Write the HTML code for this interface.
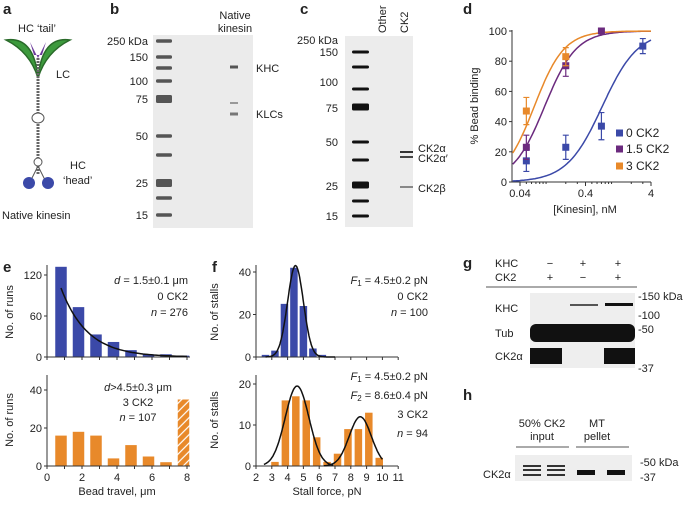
<!DOCTYPE html>
<html><head><meta charset="utf-8"><style>
body{margin:0;background:#fff}
svg{font-family:"Liberation Sans",sans-serif;font-size:11px;fill:#222}
.pl{font-weight:bold;font-size:15px}
</style></head><body>
<svg id="fig" width="685" height="504" viewBox="0 0 685 504" xmlns="http://www.w3.org/2000/svg">
<g id="panel-a">
<text class="pl" x="3" y="14">a</text>
<text x="18" y="32">HC ‘tail’</text>
<path d="M6,40 Q34,36 38,78 Q30,52 6,40Z" fill="#3d9a3d" stroke="#2a6a2a" stroke-width="1.5"/>
<path d="M70,40 Q42,36 38,78 Q46,52 70,40Z" fill="#3d9a3d" stroke="#2a6a2a" stroke-width="1.5"/>
<path d="M30,42 L38,58 L46,42 L42,55 L34,55Z" fill="#6b3a9a"/>
<text x="56" y="78">LC</text>
<line x1="38" y1="58" x2="38" y2="175" stroke="#666" stroke-width="3" stroke-dasharray="2,1"/>
<ellipse cx="38" cy="118" rx="6" ry="5" fill="#fff" stroke="#555"/>
<ellipse cx="38" cy="162" rx="4" ry="4" fill="#fff" stroke="#555"/>
<path d="M38,166 L31,180 M38,166 L45,180" stroke="#555"/>
<ellipse cx="29" cy="183" rx="6" ry="6" fill="#3b49a8"/>
<ellipse cx="48" cy="183" rx="6" ry="6" fill="#3b49a8"/>
<text x="70" y="169">HC</text><text x="63" y="184">‘head’</text>
<text x="2" y="219">Native kinesin</text>
</g>
<g id="panel-b"><text class="pl" x="110" y="14">b</text></g>
<g id="panel-c"><text class="pl" x="300" y="14">c</text></g>
<g id="panel-d"><text class="pl" x="463" y="14">d</text></g>
<g id="panel-e"><text class="pl" x="3" y="272">e</text></g>
<g id="panel-f"><text class="pl" x="212" y="272">f</text></g>
<g id="panel-g"><text class="pl" x="463" y="268">g</text></g>
<g id="panel-h"><text class="pl" x="463" y="400">h</text></g>
</svg>
<script>
// ---- data ----
const dConc=[0.05,0.2,0.7,3];
const d0=[14,23,37,90], d0e=[7,8,9,5];
const d15=[23,77,100], d15e=[8,7,0];
const d3=[47,83], d3e=[9,6];
const dTicks=[0.04,0.4,4];
const dYTicks=[0,20,40,60,80,100];
const eTopVals=[132,73,33,22,10,4,4,2];
const eBotVals=[16,18,16,4,11,5,2,35];
const eBins=[1,2,3,4,5,6,7,8];
const fTopCenters=[2.6,3.2,3.8,4.4,5.0,5.6,6.2];
const fTopVals=[1,3,25,42,24,4,1];
const fBotCenters=[3.2,3.86,4.52,5.18,5.84,6.5,7.16,7.82,8.48,9.14,9.8];
const fBotVals=[1,16,17,16,7,1,3,9,9,13,2];
const NS='http://www.w3.org/2000/svg';
function mk(p,t,a,txt){const e=document.createElementNS(NS,t);for(const k in a)e.setAttribute(k,a[k]);if(txt!==undefined)e.textContent=txt;p.appendChild(e);return e;}
function mkh(p,t,a,html){const e=mk(p,t,a);e.innerHTML=html;return e;}
const B=document.getElementById('panel-b'),C=document.getElementById('panel-c'),D=document.getElementById('panel-d'),E=document.getElementById('panel-e'),F=document.getElementById('panel-f'),G=document.getElementById('panel-g'),H=document.getElementById('panel-h');
// ---- gel b ----
mk(B,'rect',{x:153,y:35,width:100,height:193,fill:'#ebebeb'});
[41,57,68,81,99,136,155,183,198,215].forEach((y,i)=>{const h=(i==4||i==7)?8:3.5;const r=mk(B,'rect',{x:156,y:y-h/2,width:16,height:h,fill:'#555',rx:1.5});});
[[41,'250 kDa'],[57,'150'],[81,'100'],[99,'75'],[136,'50'],[183,'25'],[215,'15']].forEach(([y,t])=>{const e=mk(B,'text',{x:148,y:y+4,'text-anchor':'end'},t);});
[[67,'#555',3],[103,'#999',2],[114,'#777',3]].forEach(([y,c,h])=>mk(B,'rect',{x:230,y:y-h/2,width:8,height:h,fill:c}));
mk(B,'text',{x:235,y:19,'text-anchor':'middle'},'Native');mk(B,'text',{x:235,y:32,'text-anchor':'middle'},'kinesin');
mk(B,'text',{x:256,y:72},'KHC');mk(B,'text',{x:256,y:118},'KLCs');
// ---- gel c ----
mk(C,'rect',{x:345,y:36,width:68,height:191,fill:'#ececec'});
[52,67,89,107,142,160,185,201,216].forEach((y,i)=>{const h=(i==3||i==6)?7:3;const r=mk(C,'rect',{x:352,y:y-h/2,width:17,height:h,fill:'#111',rx:1.5});});
[[40,'250 kDa'],[52,'150'],[82,'100'],[108,'75'],[142,'50'],[186,'25'],[216,'15']].forEach(([y,t])=>mk(C,'text',{x:338,y:y+4,'text-anchor':'end'},t));
[[152,'#333',2],[157,'#444',2],[187,'#888',2]].forEach(([y,c,h])=>mk(C,'rect',{x:400,y:y-h/2,width:13,height:h,fill:c}));
mk(C,'text',{x:386,y:33,transform:'rotate(-90 386 33)'},'Other');
mk(C,'text',{x:408,y:33,transform:'rotate(-90 408 33)'},'CK2');
mk(C,'text',{x:418,y:152},'CK2α');mk(C,'text',{x:418,y:162},'CK2α′');mk(C,'text',{x:418,y:192},'CK2β');
// ---- panel d ----
const dx=v=>520+Math.log10(v/0.04)*65.5, dy=v=>182-v*1.51;
mk(D,'line',{x1:512,y1:30,x2:512,y2:182,stroke:'#333'});mk(D,'line',{x1:512,y1:182,x2:651,y2:182,stroke:'#333'});
dYTicks.forEach(v=>{mk(D,'line',{x1:509,y1:dy(v),x2:512,y2:dy(v),stroke:'#333'});mk(D,'text',{x:507,y:dy(v)+4,'text-anchor':'end'},v);});
for(let dec=0.01;dec<10;dec*=10)for(let m=1;m<10;m++){const v=dec*m;if(v<0.031||v>4.01)continue;const big=dTicks.some(t=>Math.abs(t-v)<1e-9);mk(D,'line',{x1:dx(v),y1:182,x2:dx(v),y2:182+(big?4:2),stroke:'#333'});}
dTicks.forEach(v=>mk(D,'text',{x:dx(v),y:197,'text-anchor':'middle'},v));
mk(D,'text',{x:585,y:213,'text-anchor':'middle'},'[Kinesin], nM');
mk(D,'text',{x:478,y:106,'text-anchor':'middle',transform:'rotate(-90 478 106)'},'% Bead binding');
function hill(K,n,col,name){let p='';for(let i=0;i<=100;i++){const x=0.031*Math.pow(4/0.031,i/100);let y=100*Math.pow(x,n)/(Math.pow(K,n)+Math.pow(x,n));y=Math.min(100,y);p+=(i?'L':'M')+dx(x).toFixed(1)+','+dy(y).toFixed(1);}const e=mk(D,'path',{d:p,fill:'none',stroke:col,'stroke-width':1.5});}
hill(0.72,1.6,'#3b49a8','fit-0-ck2');hill(0.095,1.8,'#6b2a7e','fit-1.5-ck2');hill(0.066,1.9,'#e8892a','fit-3-ck2');
function pts(vals,errs,col,name){vals.forEach((v,i)=>{const x=dx(dConc[i]),y=dy(v);mk(D,'path',{d:`M${x},${dy(v+errs[i])}V${dy(v-errs[i])}M${x-3},${dy(v+errs[i])}h6M${x-3},${dy(v-errs[i])}h6`,stroke:col,'stroke-width':1.2});const r=mk(D,'rect',{x:x-3.5,y:y-3.5,width:7,height:7,fill:col});});}
pts(d0,d0e,'#3b49a8','point-0-ck2');pts(d15,d15e,'#6b2a7e','point-1.5-ck2');pts(d3,d3e,'#e8892a','point-3-ck2');
[['#3b49a8','0 CK2',133],['#6b2a7e','1.5 CK2',149],['#e8892a','3 CK2',166]].forEach(([c,t,y])=>{const g=mk(D,'g',{});mk(g,'rect',{x:616,y:y-3.5,width:7,height:7,fill:c});mk(g,'text',{x:626,y:y+4,'font-size':'12'},t);});
// ---- panel e ----
const ex=v=>47+v*17.5;
function hist(par,vals,centers,xf,w,y0,ys,col,name,hatchLast){vals.forEach((v,i)=>{const c=xf(centers[i]);const r=mk(par,'rect',{x:c-w/2,y:y0-v*ys,width:w,height:v*ys,fill:(hatchLast&&i==vals.length-1)?'url(#hatch)':col});});}
const defs=mk(document.getElementById('fig'),'defs',{});
const pat=mk(defs,'pattern',{id:'hatch',width:6,height:6,patternUnits:'userSpaceOnUse',patternTransform:'rotate(-45)'});
mk(pat,'rect',{width:6,height:6,fill:'#e8892a'});mk(pat,'line',{x1:0,y1:3,x2:6,y2:3,stroke:'#fff','stroke-width':1.2});
function axes(par,x0,x1,y0,y1,yt,yf,xt,xf,showXlab){mk(par,'line',{x1:x0,y1:y1,x2:x0,y2:y0,stroke:'#333'});mk(par,'line',{x1:x0,y1:y0,x2:x1,y2:y0,stroke:'#333'});yt.forEach(v=>{mk(par,'line',{x1:x0-3,y1:yf(v),x2:x0,y2:yf(v),stroke:'#333'});mk(par,'text',{x:x0-5,y:yf(v)+4,'text-anchor':'end'},v);});xt.forEach(v=>{mk(par,'line',{x1:xf(v),y1:y0,x2:xf(v),y2:y0+3,stroke:'#333'});if(showXlab)mk(par,'text',{x:xf(v),y:y0+15,'text-anchor':'middle'},v);});}
const eTop=v=>357-v*(82/120), eBot=v=>466-v*1.9;
hist(E,eTopVals,eBins.map(b=>b-0.2),ex,11.5,357,82/120,'#3b49a8','bar-travel-0ck2');
hist(E,eBotVals,eBins.map(b=>b-0.2),ex,11.5,466,1.9,'#e8892a','bar-travel-3ck2',true);
axes(E,47,190,357,265,[0,60,120],eTop,[0,1,2,3,4,5,6,7,8],ex,false);
axes(E,47,190,466,375,[0,20,40],eBot,[0,1,2,3,4,5,6,7,8],ex,false);
[0,2,4,6,8].forEach(v=>mk(E,'text',{x:ex(v),y:481,'text-anchor':'middle'},v));
let ep='';for(let i=0;i<=60;i++){const x=0.8+i*(7.2/60);ep+=(i?'L':'M')+ex(x).toFixed(1)+','+eTop(172*Math.exp(-x/1.5)).toFixed(1);}mk(E,'path',{d:ep,fill:'none',stroke:'#111','stroke-width':1.5});
mk(E,'text',{x:13,y:312,'text-anchor':'middle',transform:'rotate(-90 13 312)'},'No. of runs');
mk(E,'text',{x:13,y:420,'text-anchor':'middle',transform:'rotate(-90 13 420)'},'No. of runs');
mk(E,'text',{x:117,y:495,'text-anchor':'middle'},'Bead travel, μm');
mkh(E,'text',{x:188,y:284,'text-anchor':'end'},'<tspan font-style="italic">d</tspan> = 1.5±0.1 μm');
mk(E,'text',{x:188,y:300,'text-anchor':'end'},'0 CK2');
mkh(E,'text',{x:188,y:316,'text-anchor':'end'},'<tspan font-style="italic">n</tspan> = 276');
mkh(E,'text',{x:138,y:391,'text-anchor':'middle'},'<tspan font-style="italic">d</tspan>&gt;4.5±0.3 μm');
mk(E,'text',{x:138,y:406,'text-anchor':'middle'},'3 CK2');
mkh(E,'text',{x:138,y:421,'text-anchor':'middle'},'<tspan font-style="italic">n</tspan> = 107');
// ---- panel f ----
const fx=v=>256+(v-2)*15.8, fTop=v=>357-v*(85/40), fBot=v=>466-v*4.1;
hist(F,fTopVals,fTopCenters,fx,7.5,357,85/40,'#3b49a8','bar-stall-0ck2');
hist(F,fBotVals,fBotCenters,fx,7.5,466,4.1,'#e8892a','bar-stall-3ck2');
const fxt=[2,3,4,5,6,7,8,9,10,11];
axes(F,256,398,357,265,[0,20,40],fTop,fxt,fx,false);
axes(F,256,398,466,375,[0,10,20],fBot,fxt,fx,true);
function gauss(par,yf,comps,x0,x1){let p='';for(let i=0;i<=120;i++){const x=x0+i*(x1-x0)/120;let y=0;comps.forEach(([m,a,s])=>y+=a*Math.exp(-((x-m)**2)/(2*s*s)));p+=(i?'L':'M')+fx(x).toFixed(1)+','+yf(y).toFixed(1);}mk(par,'path',{d:p,fill:'none',stroke:'#111','stroke-width':1.5});}
gauss(F,fTop,[[4.5,43,0.5]],2.6,7);
gauss(F,fBot,[[4.6,19.5,0.75]],2.5,6.9);gauss(F,fBot,[[8.6,12,0.7]],6.3,10);
mk(F,'text',{x:218,y:312,'text-anchor':'middle',transform:'rotate(-90 218 312)'},'No. of stalls');
mk(F,'text',{x:218,y:420,'text-anchor':'middle',transform:'rotate(-90 218 420)'},'No. of stalls');
mk(F,'text',{x:327,y:495,'text-anchor':'middle'},'Stall force, pN');
mkh(F,'text',{x:428,y:284,'text-anchor':'end'},'<tspan font-style="italic">F</tspan><tspan font-size="8" dy="2">1</tspan><tspan dy="-2"> = 4.5±0.2 pN</tspan>');
mk(F,'text',{x:428,y:300,'text-anchor':'end'},'0 CK2');
mkh(F,'text',{x:428,y:316,'text-anchor':'end'},'<tspan font-style="italic">n</tspan> = 100');
mkh(F,'text',{x:428,y:380,'text-anchor':'end'},'<tspan font-style="italic">F</tspan><tspan font-size="8" dy="2">1</tspan><tspan dy="-2"> = 4.5±0.2 pN</tspan>');
mkh(F,'text',{x:428,y:399,'text-anchor':'end'},'<tspan font-style="italic">F</tspan><tspan font-size="8" dy="2">2</tspan><tspan dy="-2"> = 8.6±0.4 pN</tspan>');
mk(F,'text',{x:428,y:418,'text-anchor':'end'},'3 CK2');
mkh(F,'text',{x:428,y:437,'text-anchor':'end'},'<tspan font-style="italic">n</tspan> = 94');
// ---- panel g ----
mk(G,'text',{x:495,y:267},'KHC');mk(G,'text',{x:495,y:281},'CK2');
[[550,'−','+'],[583,'+','−'],[618,'+','+']].forEach(([x,a,b])=>{mk(G,'text',{x,y:267,'text-anchor':'middle'},a);mk(G,'text',{x,y:281,'text-anchor':'middle'},b);});
mk(G,'line',{x1:486,y1:287,x2:637,y2:287,stroke:'#555'});
mk(G,'rect',{x:530,y:293,width:105,height:75,fill:'#eee'});
mk(G,'rect',{x:570,y:304,width:28,height:2,fill:'#555'});mk(G,'rect',{x:605,y:303,width:28,height:3,fill:'#111'});
mk(G,'rect',{x:530,y:324,width:105,height:18,fill:'#111',rx:6});
mk(G,'rect',{x:530,y:348,width:32,height:16,fill:'#111'});mk(G,'rect',{x:604,y:348,width:31,height:16,fill:'#111'});
[[296,'-150 kDa'],[315,'-100'],[329,'-50'],[368,'-37']].forEach(([y,t])=>mk(G,'text',{x:638,y:y+4},t));
[[308,'KHC'],[333,'Tub'],[356,'CK2α']].forEach(([y,t])=>mk(G,'text',{x:495,y:y+4},t));
// ---- panel h ----
mk(H,'text',{x:542,y:427,'text-anchor':'middle'},'50% CK2');mk(H,'text',{x:542,y:440,'text-anchor':'middle'},'input');
mk(H,'text',{x:597,y:427,'text-anchor':'middle'},'MT');mk(H,'text',{x:597,y:440,'text-anchor':'middle'},'pellet');
mk(H,'line',{x1:516,y1:447,x2:569,y2:447,stroke:'#555'});mk(H,'line',{x1:576,y1:447,x2:629,y2:447,stroke:'#555'});
mk(H,'rect',{x:515,y:455,width:117,height:26,fill:'#eee'});
[523,547].forEach(x=>{[466,470,475].forEach(y=>mk(H,'rect',{x,y:y-1,width:18,height:2,fill:'#333'}));});
[577,607].forEach(x=>mk(H,'rect',{x,y:470,width:18,height:5,fill:'#111'}));
mk(H,'text',{x:483,y:478},'CK2α');mk(H,'text',{x:640,y:466},'-50 kDa');mk(H,'text',{x:640,y:481},'-37');
</script>
</body></html>
